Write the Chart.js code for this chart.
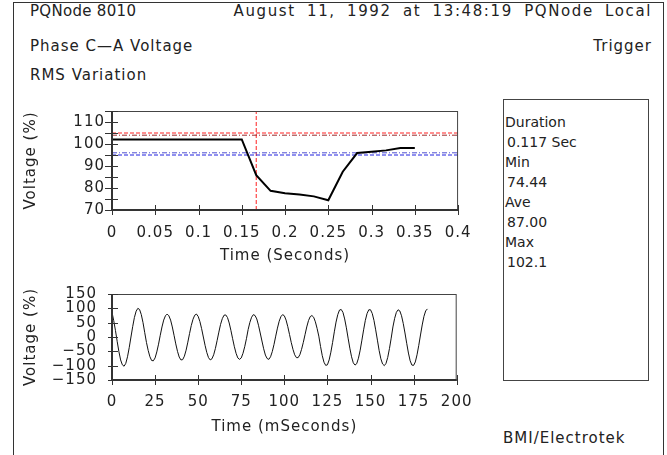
<!DOCTYPE html>
<html>
<head>
<meta charset="utf-8">
<script src="https://cdn.jsdelivr.net/npm/chart.js@4.4.1/dist/chart.umd.min.js"></script>
<style>
  body { margin: 0; background: #fff; }
  #page { position: relative; width: 667px; height: 455px; overflow: hidden; font-family: "DejaVu Sans"; color: #222; }
  #frame { position: absolute; left: 13px; top: 2px; width: 649px; height: 470px; border: 1px solid #333; border-bottom: none; }
  .txt { position: absolute; font-size: 15px; line-height: 18px; letter-spacing: 1px; white-space: nowrap; }
  .canvasBox { position: absolute; left: 14px; width: 470px; height: 175px; }
  #statBox { position: absolute; left: 503px; top: 99px; width: 144px; height: 280px; border: 1px solid #444; }
  .stat { position: absolute; font-size: 14px; line-height: 18px; white-space: nowrap; }
</style>
</head>
<body>
<div id="page">
  <div id="frame"></div>
  <div class="txt" style="left:30px; top:2px; letter-spacing:0.3px;">PQNode 8010</div>
  <div class="txt" style="right:15px; top:2px; letter-spacing:1.6px; word-spacing:5px;">August 11, 1992 at 13:48:19 PQNode Local</div>
  <div class="txt" style="left:30px; top:37px;">Phase C—A Voltage</div>
  <div class="txt" style="right:15px; top:37px;">Trigger</div>
  <div class="txt" style="left:30px; top:66px;">RMS Variation</div>
  <div class="canvasBox" style="top:95px;"><canvas id="rmsChart"></canvas></div>
  <div class="canvasBox" style="top:270px;"><canvas id="waveChart"></canvas></div>
  <div id="statBox"></div>
  <div class="txt" style="left:503px; top:429px;">BMI/Electrotek</div>
</div>
<script>
// RMS trace (top plot)
var rmsTimes = [0, 0.15, 0.1667, 0.1833, 0.2, 0.2167, 0.2333, 0.25, 0.2667, 0.2833, 0.3, 0.3167, 0.3333, 0.35];
var rmsValues = [102.1, 102.1, 85.8, 78.7, 77.6, 77.0, 76.2, 74.44, 87.4, 95.9, 96.5, 97.1, 98.2, 98.2];
var limitLevels = [105, 104, 96, 95];
var limitColors = ['#ff2020', '#9a2a2a', '#5050d0', '#2020e0'];
var limitDashes = [[4, 2], [5, 2, 1, 2], [5, 2, 1, 2], [4, 2]];
var triggerTime = 0.1667;
var rmsTimeTicks = [0, 0.05, 0.1, 0.15, 0.2, 0.25, 0.3, 0.35, 0.4];
var rmsVoltTicks = [70, 75, 80, 85, 90, 95, 100, 105, 110, 115];

// waveform (bottom plot), 1 ms samples
var waveTimes = [
  0, 1, 2, 3, 4, 5, 6, 7, 8, 9, 10, 11, 12, 13, 14, 15, 16, 17, 18, 19,
  20, 21, 22, 23, 24, 25, 26, 27, 28, 29, 30, 31, 32, 33, 34, 35, 36, 37, 38, 39,
  40, 41, 42, 43, 44, 45, 46, 47, 48, 49, 50, 51, 52, 53, 54, 55, 56, 57, 58, 59,
  60, 61, 62, 63, 64, 65, 66, 67, 68, 69, 70, 71, 72, 73, 74, 75, 76, 77, 78, 79,
  80, 81, 82, 83, 84, 85, 86, 87, 88, 89, 90, 91, 92, 93, 94, 95, 96, 97, 98, 99,
  100, 101, 102, 103, 104, 105, 106, 107, 108, 109, 110, 111, 112, 113, 114, 115, 116, 117, 118, 119,
  120, 121, 122, 123, 124, 125, 126, 127, 128, 129, 130, 131, 132, 133, 134, 135, 136, 137, 138, 139,
  140, 141, 142, 143, 144, 145, 146, 147, 148, 149, 150, 151, 152, 153, 154, 155, 156, 157, 158, 159,
  160, 161, 162, 163, 164, 165, 166, 167, 168, 169, 170, 171, 172, 173, 174, 175, 176, 177, 178, 179,
  180, 181, 182, 183
];
var waveValues = [
  86, 57, 23, -15, -51, -80, -97, -102, -92, -69, -37, 0, 36, 68, 90, 100, 96, 78, 50, 15,
  -19, -47, -69, -82, -83, -73, -52, -25, 6, 35, 59, 74, 80, 74, 59, 35, 6, -24, -50, -70,
  -80, -79, -67, -46, -18, 12, 40, 62, 76, 80, 72, 54, 29, 0, -29, -54, -72, -80, -76, -62,
  -40, -12, 17, 44, 64, 76, 77, 68, 49, 23, -6, -34, -57, -73, -78, -73, -57, -34, -6, 26,
  51, 69, 78, 75, 63, 41, 14, -14, -41, -63, -75, -78, -69, -51, -26, 3, 31, 55, 71, 78,
  74, 59, 36, 9, -19, -43, -62, -72, -72, -62, -43, -19, 8, 35, 57, 71, 75, 69, 53, 30,
  3, -33, -65, -88, -99, -97, -80, -53, -19, 18, 52, 78, 94, 96, 86, 63, 32, -4, -39, -69,
  -90, -98, -93, -74, -46, -11, 25, 58, 82, 95, 95, 82, 58, 25, -11, -47, -76, -94, -100, -92,
  -71, -40, -4, 35, 65, 86, 95, 91, 74, 47, 14, -22, -56, -83, -98, -99, -87, -62, -29, 7,
  42, 72, 91, 98
];
var waveTimeTicks = [0, 25, 50, 75, 100, 125, 150, 175, 200];
var waveVoltTicks = [-150, -100, -50, 0, 50, 100, 150];

// summary box
var statLabels = ['Duration', 'Min', 'Ave', 'Max'];
var statValues = ['0.117 Sec', '74.44', '87.00', '102.1'];

var box = document.getElementById('statBox');
statLabels.forEach(function (lab, i) {
  var a = document.createElement('div');
  a.className = 'stat';
  a.style.left = '1px';
  a.style.top = (13 + i * 40) + 'px';
  a.textContent = lab;
  box.appendChild(a);
  var b = document.createElement('div');
  b.className = 'stat';
  b.style.left = '3px';
  b.style.top = (33 + i * 40) + 'px';
  b.textContent = statValues[i];
  box.appendChild(b);
});

var font = { family: 'DejaVu Sans', size: 15 };
var textColor = '#222';

// box round the plot and ticks crossing the axes
function axisBox(yOut, yIn, xIn, xOut) {
  return {
    id: 'axisBox',
    beforeDraw: function (chart) { chart.ctx.letterSpacing = '1px'; },
    afterDatasetsDraw: function (chart) {
      var ctx = chart.ctx, a = chart.chartArea, x = chart.scales.x, y = chart.scales.y;
      ctx.save();
      ctx.strokeStyle = '#444';
      ctx.lineWidth = 1;
      ctx.strokeRect(a.left + 0.5, a.top + 0.5, a.right - a.left - 1, a.bottom - a.top);
      ctx.strokeStyle = '#333';
      ctx.lineWidth = 2;
      ctx.beginPath();
      ctx.moveTo(a.left, a.top);
      ctx.lineTo(a.left, a.bottom);
      ctx.lineTo(a.right, a.bottom);
      ctx.stroke();
      ctx.lineWidth = 1;
      ctx.beginPath();
      y.ticks.forEach(function (t) {
        var py = Math.round(y.getPixelForValue(t.value)) + 0.5;
        ctx.moveTo(a.left - yOut, py);
        ctx.lineTo(a.left + yIn, py);
      });
      x.ticks.forEach(function (t) {
        var px = Math.round(x.getPixelForValue(t.value)) + 0.5;
        ctx.moveTo(px, a.bottom - xIn);
        ctx.lineTo(px, a.bottom + xOut);
      });
      ctx.stroke();
      ctx.restore();
    }
  };
}

function axis(min, max, tickList, fitSize, pad, titleText, titlePad, labelFn) {
  return {
    type: 'linear', min: min, max: max,
    afterBuildTicks: function (s) { s.ticks = tickList.map(function (v) { return { value: v }; }); },
    afterFit: function (s) { if (s.isHorizontal()) { s.height = fitSize; } else { s.width = fitSize; } },
    grid: { display: false, drawTicks: false },
    border: { display: false },
    ticks: { padding: pad, autoSkip: false, maxRotation: 0, color: textColor, font: font, callback: labelFn },
    title: { display: true, text: titleText, color: textColor, font: font, padding: titlePad }
  };
}

// top plot datasets
var rmsSets = [{
  data: rmsTimes.map(function (t, i) { return { x: t, y: rmsValues[i] }; }),
  borderColor: '#000', borderWidth: 2, pointRadius: 0, tension: 0
}];
limitLevels.forEach(function (lv, i) {
  rmsSets.push({
    data: [{ x: 0, y: lv }, { x: 0.4, y: lv }],
    borderColor: limitColors[i], borderWidth: 1, borderDash: limitDashes[i], pointRadius: 0
  });
});
rmsSets.push({
  data: [{ x: triggerTime, y: 70 }, { x: triggerTime, y: 115 }],
  borderColor: '#ff2020', borderWidth: 1, borderDash: [4, 2], pointRadius: 0
});

new Chart(document.getElementById('rmsChart'), {
  type: 'line',
  data: { datasets: rmsSets },
  options: {
    responsive: true, maintainAspectRatio: false, animation: false,
    layout: { padding: { top: 12, right: 22, left: 0, bottom: 0 } },
    plugins: { legend: { display: false }, tooltip: { enabled: false } },
    scales: {
      x: axis(0, 0.4, rmsTimeTicks, 60, 14, 'Time (Seconds)', { top: 0, bottom: 5 }, function (v) { return String(v); }),
      y: axis(70, 115, rmsVoltTicks, 98, 7, 'Voltage (%)', { top: 8, bottom: 0 }, function (v) { return v % 10 === 0 ? String(v) : ''; })
    }
  },
  plugins: [axisBox(7, 6, 5, 5)]
});

new Chart(document.getElementById('waveChart'), {
  type: 'line',
  data: {
    datasets: [{
      data: waveTimes.map(function (t, i) { return { x: t, y: waveValues[i] }; }),
      borderColor: '#111', borderWidth: 1, pointRadius: 0, tension: 0
    }]
  },
  options: {
    responsive: true, maintainAspectRatio: false, animation: false,
    layout: { padding: { top: 9, right: 22, left: 0, bottom: 0 } },
    plugins: { legend: { display: false }, tooltip: { enabled: false } },
    scales: {
      x: axis(0, 200, waveTimeTicks, 65, 13, 'Time (mSeconds)', { top: 0, bottom: 9 }, function (v) { return String(v); }),
      y: axis(-150, 150, waveVoltTicks, 98, 15, 'Voltage (%)', { top: 8, bottom: 0 }, function (v) { return v < 0 ? '\u2212' + Math.abs(v) : String(v); })
    }
  },
  plugins: [axisBox(4, 6, 5, 5)]
});
</script>
</body>
</html>
